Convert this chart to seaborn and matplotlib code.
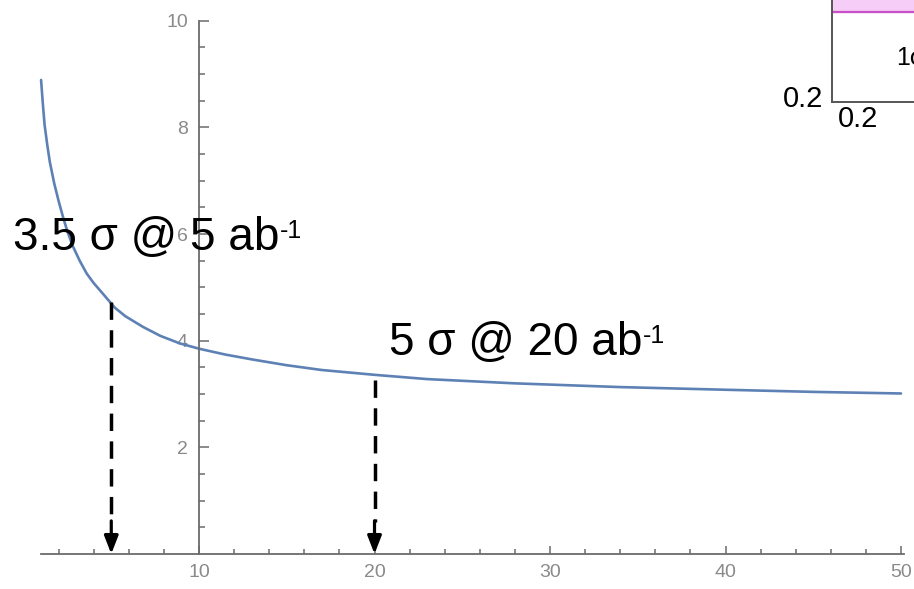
import numpy as np
import pandas as pd
import seaborn as sns
import matplotlib
matplotlib.use('Agg')
import matplotlib.pyplot as plt

# values
lumi = [1.0, 1.1, 1.2, 1.35, 1.5, 1.75, 2.0, 2.25, 2.5, 2.8, 3.2, 3.6, 4.0, 4.5, 5.2,
        5.8, 6.8, 7.8, 8.9, 10, 11.5, 13, 15, 17, 20, 23, 28, 34, 40, 45, 50]
signif = [8.89, 8.45, 8.05, 7.68, 7.35, 6.95, 6.62, 6.32, 6.05, 5.78, 5.50, 5.26, 5.08, 4.89, 4.62,
          4.46, 4.26, 4.09, 3.95, 3.85, 3.74, 3.65, 3.54, 3.45, 3.36, 3.28, 3.20, 3.13, 3.08, 3.04, 3.01]

arrow_x = [5, 20]
arrow_top = [4.72, 3.26]
arrow_labels = ['3.5 σ @ 5 ab', '5 σ @ 20 ab']
arrow_sup = '-1'
label_pos = [(-0.62, 5.7), (20.8, 3.73)]

x_ticks = [10, 20, 30, 40, 50]
y_ticks = [2, 4, 6, 8, 10]

inset_ticks_y = [0.4, 0.6, 0.8]
inset_ticks_x = [0.4, 0.6, 0.8]
inset_band = 0.85

df = pd.DataFrame({'lumi': lumi, 'signif': signif})

sns.set_theme(style='white')
plt.rcParams['font.family'] = ['Liberation Sans', 'DejaVu Sans']

fig = plt.figure(figsize=(9.14, 5.89), dpi=100)
ax = fig.add_axes([0, 0, 1, 1])

sns.lineplot(data=df, x='lumi', y='signif', ax=ax, color='#5E81B5', linewidth=1.9)

ax.set_xlim(-1.34, 50.74)
ax.set_ylim(-0.657, 10.39)

# Mathematica-style axes crossing at (10, 0)
for s in ['top', 'right']:
    ax.spines[s].set_visible(False)
ax.spines['left'].set_position(('data', 10))
ax.spines['bottom'].set_position(('data', 0))
ax.spines['left'].set_bounds(0, 10)
ax.spines['bottom'].set_bounds(1.0, 50.15)
for s in ['left', 'bottom']:
    ax.spines[s].set_color('#6b6b6b')
    ax.spines[s].set_linewidth(1.3)

ax.set_xticks(x_ticks)
ax.set_xticks(np.arange(2, 51, 2), minor=True)
ax.set_yticks(y_ticks)
ax.set_yticks(np.arange(0.5, 10, 0.5), minor=True)
ax.tick_params(axis='both', which='both', direction='in', color='#6b6b6b',
               labelcolor='#8a8a8a', labelsize=14, width=1.1)
ax.tick_params(axis='x', which='major', length=6, pad=7)
ax.tick_params(axis='x', which='minor', length=3.5)
ax.tick_params(axis='y', which='major', length=7, pad=8)
ax.tick_params(axis='y', which='minor', length=4)
ax.tick_params(axis='x', which='both', bottom=True)
ax.tick_params(axis='y', which='both', left=True)
ax.set_xlabel('')
ax.set_ylabel('')

# dashed arrows down to the axis
for x, top in zip(arrow_x, arrow_top):
    ax.plot([x, x], [top, 0.6], color='black', linewidth=2.5, linestyle=(0, (5, 3)), zorder=5)
    ax.annotate('', xy=(x, 0.0), xytext=(x, 0.62),
                arrowprops=dict(arrowstyle='-|>,head_width=0.35,head_length=0.9',
                                color='black', linewidth=2.3, shrinkA=0, shrinkB=0),
                zorder=5)

labels = []
for txt, (tx, ty) in zip(arrow_labels, label_pos):
    labels.append(ax.text(tx, ty, txt, fontsize=33, color='black', ha='left',
                          va='baseline', zorder=6))

# superscripts placed at the top-right of each label
fig.canvas.draw()
for t in labels:
    bb = t.get_window_extent()
    fig.text(bb.x1 + 1, bb.y1 - 3, arrow_sup, fontsize=18, color='black',
             ha='left', va='top', transform=None, zorder=7)

# clipped inset in the top-right corner
ins = fig.add_axes([832 / 914, (589 - 102) / 589, 0.2, 102 / 589 + 0.05])
ins.set_xlim(0.2, 0.2 + 0.2 * 0.2 * 914 / 23.5)
ins.set_ylim(0.2, 0.2 + 0.2 * (102 + 29) / 27.5)
ins.axhspan(inset_band, 2, color='#f6cdf6', zorder=0)
ins.axhline(inset_band, color='#c850c8', linewidth=1.6)
for s in ['top', 'right']:
    ins.spines[s].set_visible(False)
for s in ['left', 'bottom']:
    ins.spines[s].set_color('#555555')
    ins.spines[s].set_linewidth(1.4)
ins.set_yticks(inset_ticks_y)
ins.set_yticklabels([])
ins.set_xticks(inset_ticks_x)
ins.set_xticklabels([])
ins.tick_params(direction='in', length=10, width=1.2, color='#555555')
ins.tick_params(axis='x', length=6)
ins.text(-0.05, 0.02, '0.2', transform=ins.transAxes, fontsize=21, color='black',
         ha='right', va='center')
ins.text(0.03, -0.02, '0.2', transform=ins.transAxes, fontsize=21, color='black',
         ha='left', va='top')
ins.text(0.75, 0.47, '1σ', fontsize=18, color='black')
ins.set_facecolor('white')

fig.savefig('out.png', dpi=100)
